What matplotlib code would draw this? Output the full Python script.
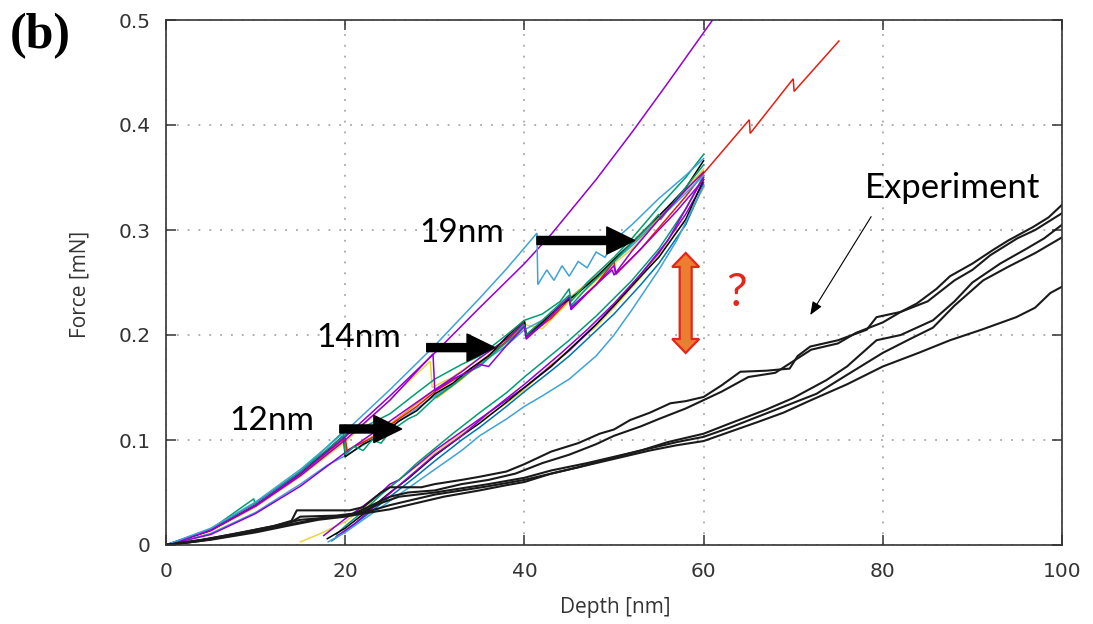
import matplotlib
matplotlib.use('Agg')
import matplotlib.pyplot as plt
from matplotlib.patches import Polygon
from matplotlib.transforms import ScaledTranslation

# ---- axis setup ----
x_ticks = [0, 20, 40, 60, 80, 100]
x_tick_labels = ['0', '20', '40', '60', '80', '100']
y_ticks = [0, 0.1, 0.2, 0.3, 0.4, 0.5]
y_tick_labels = ['0', '0.1', '0.2', '0.3', '0.4', '0.5']

# ---- simulation curves, indenter starts in contact ----
u1_x = [0, 5, 10, 15, 20, 25, 30, 35, 40, 43, 48, 52, 56, 61, 62]
u1_y = [0, .014, .038, .068, .103, .142, .183, .226, .268, .296, .348, .393, .44, .5, .512]

u2_x = [0, 5, 10, 15, 20, 25, 30, 35, 38, 41.4, 41.5, 42.5, 43.3, 44.2, 45, 46, 47, 48, 49, 50, 52, 55, 58, 60]
u2_y = [0, .016, .041, .072, .108, .148, .19, .235, .263, .297, .248, .262, .252, .266, .256, .27, .264, .279, .274, .29, .305, .33, .352, .368]

u3_x = [0, 5, 9.8, 10, 15, 19.8, 20, 21, 22, 23, 24, 25, 27, 28, 30, 32, 34, 35, 37, 39, 40, 40.2, 42, 44, 45, 45.2, 47, 50, 52, 54, 55, 55.2, 57, 60]
u3_y = [0, .015, .044, .037, .07, .108, .086, .094, .09, .1, .097, .108, .12, .124, .14, .152, .166, .17, .186, .2, .21, .2, .214, .23, .238, .228, .245, .27, .288, .305, .315, .31, .33, .362]

u4_x = [0, 5, 10, 15, 20, 25, 29.8, 30, 32, 34, 35, 36, 38, 40, 40.2, 42, 44, 45, 45.2, 47, 49.8, 50, 52, 55, 58, 60]
u4_y = [0, .014, .037, .066, .1, .138, .182, .147, .158, .166, .172, .17, .19, .208, .196, .21, .228, .236, .226, .24, .262, .257, .28, .31, .338, .355]

u5_x = [0, 5, 10, 15, 20, 25, 28, 30, 33, 35, 38, 40, 40.2, 43, 45, 45.2, 48, 50, 50.2, 53, 55, 57, 60]
u5_y = [0, .01, .03, .056, .088, .118, .136, .148, .165, .178, .196, .212, .198, .218, .236, .224, .248, .266, .258, .282, .3, .318, .348]

u6_x = [0, 5, 10, 15, 18, 20, 22, 25, 28, 30, 32, 35, 38, 40, 42, 45, 48, 50, 52, 55, 58, 60]
u6_y = [0, .011, .031, .058, .076, .085, .095, .112, .13, .142, .153, .172, .19, .205, .214, .234, .255, .27, .285, .31, .335, .352]

u7_x = [0, 5, 10, 15, 20, 24, 27, 29.5, 29.7, 32, 35, 37, 40, 42, 45, 47, 50, 52, 55, 57, 60]
u7_y = [0, .013, .036, .065, .098, .13, .155, .175, .15, .16, .178, .19, .21, .206, .232, .244, .268, .282, .31, .33, .358]

u8_x = [0, 5, 10, 15, 20, 20.2, 23, 25, 27, 30, 30.2, 33, 35, 38, 40, 40.2, 43, 45, 48, 50, 53, 55, 58, 60]
u8_y = [0, .014, .037, .067, .1, .09, .103, .115, .128, .148, .14, .158, .172, .193, .21, .2, .22, .235, .256, .27, .295, .312, .338, .356]

u9_x = [0, 5, 10, 15, 19.8, 20, 22, 24, 26, 28, 30, 32, 34, 36, 38, 40, 40.2, 42, 44, 46, 48, 50, 52, 54, 56, 58, 60]
u9_y = [0, .014, .038, .068, .104, .084, .096, .104, .118, .128, .144, .154, .168, .18, .198, .214, .2, .212, .228, .24, .255, .272, .288, .305, .322, .34, .366]

u10_x = [0, 5, 10, 15, 20, 22, 25, 28, 30, 33, 35, 38, 40, 42, 44, 45, 45.2, 47, 50, 52, 55, 58, 60]
u10_y = [0, .015, .04, .07, .105, .112, .125, .145, .158, .172, .18, .2, .214, .22, .232, .244, .232, .25, .274, .292, .322, .35, .372]

red_x = [0, 5, 10, 15, 20, 20.2, 23, 25, 28, 30, 33, 35, 38, 40, 40.2, 43, 45, 45.2, 48, 50, 50.2, 53, 55, 58, 60, 65.1, 65.2, 70, 70.1, 75.1]
red_y = [0, .014, .038, .068, .102, .09, .102, .114, .132, .146, .162, .174, .194, .212, .198, .216, .234, .226, .248, .27, .258, .282, .302, .332, .354, .405, .392, .444, .432, .48]

# ---- simulation curves with an initial gap ----
l1_x = [15, 17, 20, 22, 24, 26, 28, 30, 32, 35, 38, 40, 43, 45, 48, 50, 53, 55, 58, 60]
l1_y = [.003, .01, .022, .035, .05, .062, .075, .088, .1, .118, .135, .148, .172, .186, .208, .226, .255, .276, .31, .34]

l2_x = [17.6, 20, 22, 24, 25, 26, 28, 30, 32, 35, 38, 40, 42, 45, 48, 50, 53, 55, 58, 60]
l2_y = [.009, .025, .037, .05, .058, .062, .076, .09, .102, .12, .138, .15, .164, .185, .21, .228, .258, .278, .315, .345]

l3_x = [18.1, 20, 22, 25, 28, 30, 33, 35, 38, 40, 42, 45, 48, 50, 52, 55, 57, 60]
l3_y = [.003, .012, .024, .042, .06, .072, .09, .104, .12, .132, .142, .158, .18, .2, .224, .262, .29, .342]

l4_x = [19, 20, 22, 24, 26, 28, 30, 32, 35, 38, 40, 42, 45, 48, 50, 52, 55, 58, 60]
l4_y = [.01, .018, .032, .048, .062, .078, .092, .106, .126, .145, .16, .174, .195, .218, .235, .252, .282, .32, .352]

l5_x = [18, 20, 23, 25, 27, 30, 33, 35, 38, 40, 43, 45, 48, 50, 53, 55, 58, 60]
l5_y = [.006, .016, .036, .05, .063, .085, .104, .116, .136, .15, .17, .186, .21, .228, .256, .274, .31, .348]

l6_x = [18.5, 20, 22, 25, 28, 30, 33, 35, 38, 40, 43, 45, 48, 50, 53, 55, 58, 60]
l6_y = [.004, .013, .026, .046, .066, .08, .1, .112, .132, .146, .166, .18, .204, .22, .248, .268, .305, .343]

l7_x = [19, 21, 24, 27, 30, 33, 36, 40, 44, 47, 50, 53, 56, 60]
l7_y = [.008, .02, .042, .064, .086, .104, .126, .153, .182, .205, .23, .258, .29, .35]

# ---- experiment curves ----
e1_x = [0, 3, 6, 9, 12, 14, 14.6, 20.5, 22, 24, 25, 28.5, 30, 33, 35, 38, 40, 43, 46, 48.4, 50, 51.8, 54, 56.3, 58, 60, 62, 64.1, 67, 69.6, 70.5, 71.9, 75, 78.2, 79.3, 82, 83.8, 86, 87.5, 90, 92.3, 94, 96.8, 98.5, 100]
e1_y = [0, .003, .008, .013, .018, .023, .033, .033, .036, .05, .055, .055, .058, .062, .065, .07, .077, .089, .097, .106, .11, .119, .126, .135, .137, .141, .152, .165, .166, .168, .18, .189, .195, .205, .217, .222, .23, .244, .256, .268, .281, .29, .303, .312, .324]

e2_x = [0, 4, 8, 11, 14, 15, 19, 21, 23, 25, 27, 30, 33, 36, 39, 42, 45, 48, 50, 53, 55, 58, 60, 62, 65, 68, 70, 72, 75, 77, 80, 82, 85, 88, 90, 92, 95, 97, 100]
e2_y = [0, .004, .01, .015, .022, .027, .028, .03, .038, .046, .05, .052, .058, .062, .068, .078, .086, .096, .104, .113, .12, .13, .138, .146, .16, .164, .175, .186, .192, .202, .212, .222, .232, .252, .262, .276, .292, .3, .316]

e3_x = [0, 4, 8, 12, 15, 18, 20, 23, 25, 28, 30, 33, 36, 40, 43, 46, 50.3, 53, 56, 60, 63, 67, 70, 73.7, 76, 79.3, 82, 85.6, 88, 90, 93.1, 96, 98, 100]
e3_y = [0, .005, .011, .018, .024, .026, .028, .033, .038, .044, .048, .052, .056, .062, .068, .074, .084, .09, .098, .106, .116, .129, .14, .157, .17, .195, .2, .214, .232, .25, .268, .282, .292, .305]

e4_x = [0, 5, 10, 14, 17, 20, 22, 24, 26, 30, 33, 36, 40, 43, 47, 50, 54, 57, 60, 63, 66, 69, 72.6, 76, 80, 83, 85.6, 88, 91.2, 94, 97, 100]
e4_y = [0, .006, .013, .02, .025, .028, .032, .04, .046, .05, .054, .058, .064, .071, .078, .084, .092, .098, .103, .112, .122, .132, .144, .162, .183, .196, .207, .228, .252, .265, .278, .293]

e5_x = [0, 5, 10, 14, 17, 20, 22, 25, 28, 31, 35, 38, 40, 43, 47, 50, 54, 57, 60, 63, 66, 68.9, 72, 76, 80, 84, 87.5, 91, 94.9, 97, 98.7, 100]
e5_y = [0, .005, .012, .019, .024, .027, .03, .034, .04, .046, .052, .057, .06, .068, .076, .082, .09, .095, .099, .108, .117, .126, .138, .153, .17, .183, .195, .205, .217, .226, .24, .246]

# gnuplot default line colours
PURPLE = '#9400d3'
GREEN = '#009e73'
SKY = '#3fa3d6'
ORANGE = '#e69f00'
YELLOW = '#e8d640'
BLUE = '#0072b2'
RED = '#e51e10'


def main():
    fig = plt.figure(figsize=(10.93, 6.24), dpi=100)
    ax = fig.add_axes([166 / 1093, 79 / 624, 896 / 1093, 525 / 624])

    lw = 1.1
    sims = [
        (l1_x, l1_y, YELLOW), (l2_x, l2_y, PURPLE), (l4_x, l4_y, GREEN),
        (l6_x, l6_y, BLUE), (l5_x, l5_y, 'black'), (l7_x, l7_y, PURPLE),
        (l3_x, l3_y, SKY),
        (u7_x, u7_y, YELLOW), (u8_x, u8_y, ORANGE), (red_x, red_y, RED),
        (u6_x, u6_y, SKY), (u5_x, u5_y, PURPLE), (u9_x, u9_y, 'black'),
        (u10_x, u10_y, GREEN), (u3_x, u3_y, GREEN), (u4_x, u4_y, PURPLE),
        (u1_x, u1_y, PURPLE), (u2_x, u2_y, SKY),
    ]
    for xs, ys, c in sims:
        ax.plot(xs, ys, color=c, lw=lw, solid_joinstyle='miter')

    for xs, ys in [(e1_x, e1_y), (e2_x, e2_y), (e3_x, e3_y), (e4_x, e4_y), (e5_x, e5_y)]:
        ax.plot(xs, ys, color='#1a1a1a', lw=1.5)

    ax.set_xlim(0, 100)
    ax.set_ylim(0, 0.5)
    ax.set_xticks(x_ticks)
    ax.set_xticklabels(x_tick_labels)
    ax.set_yticks(y_ticks)
    ax.set_yticklabels(y_tick_labels)
    ax.tick_params(direction='in', length=7, width=1.1, top=True, right=True,
                   labelsize=14.5, labelcolor='#333333', color='#333333')
    ax.tick_params(axis='x', pad=12)
    ax.tick_params(axis='y', pad=11)
    for s in ax.spines.values():
        s.set_color('#333333')
        s.set_linewidth(1.2)
    ax.grid(True, linestyle=(0, (1, 5)), color='#a8a8a8', lw=1.3)
    ax.set_axisbelow(True)

    fig.text(615 / 1093, 1 - 608 / 624, 'Depth [nm]', ha='center', va='center',
             fontsize=15, family='Open Sans', color='#333333')
    fig.text(80 / 1093, 1 - 284 / 624, 'Force [mN]', ha='center', va='center',
             rotation=90, fontsize=15, family='Open Sans', color='#333333')
    fig.text(10 / 1093, 1 - 48 / 624, '(b)', fontsize=36, family='Liberation Serif',
             weight='bold', va='baseline')

    # pop-in labels and arrows
    big = dict(arrowstyle='simple,head_length=20,head_width=19.5,tail_width=5.8',
               mutation_scale=1, color='black', shrinkA=0, shrinkB=0)
    for txt, tx, ty, a0, a1, ay in [('12nm', 7.1, 0.1095, 19.4, 26.3, 0.1105),
                                     ('14nm', 16.8, 0.189, 29.1, 36.7, 0.188),
                                     ('19nm', 28.3, 0.289, 41.4, 52.3, 0.290)]:
        ax.text(tx, ty, txt, fontsize=24, family='Lato', va='baseline', color='black')
        ax.annotate('', xy=(a1, ay), xytext=(a0, ay), arrowprops=big)

    ax.text(78.0, 0.3305, 'Experiment', fontsize=25, family='Lato', va='baseline')
    ax.annotate('', xy=(71.9, 0.219), xytext=(78.7, 0.3127),
                arrowprops=dict(arrowstyle='-|>,head_length=0.8,head_width=0.32',
                                mutation_scale=10, color='black', lw=0.8,
                                shrinkA=0, shrinkB=0))

    # orange double arrow
    tr = fig.dpi_scale_trans + ScaledTranslation(58.0, 0.2305, ax.transData)
    verts = [(-0.06, -0.36), (-0.135, -0.36), (0, -0.5), (0.135, -0.36), (0.06, -0.36),
             (0.06, 0.36), (0.135, 0.36), (0, 0.5), (-0.135, 0.36), (-0.06, 0.36)]
    ax.add_patch(Polygon(verts, closed=True, transform=tr, facecolor='#ed7d31',
                         edgecolor='#e4261c', lw=1.6, clip_on=False, zorder=5))
    ax.text(63.7, 0.24, '?', fontsize=33, family='Lato', color='#e4261c',
            ha='center', va='center')

    fig.savefig('out.png', dpi=100)


if __name__ == '__main__':
    main()
